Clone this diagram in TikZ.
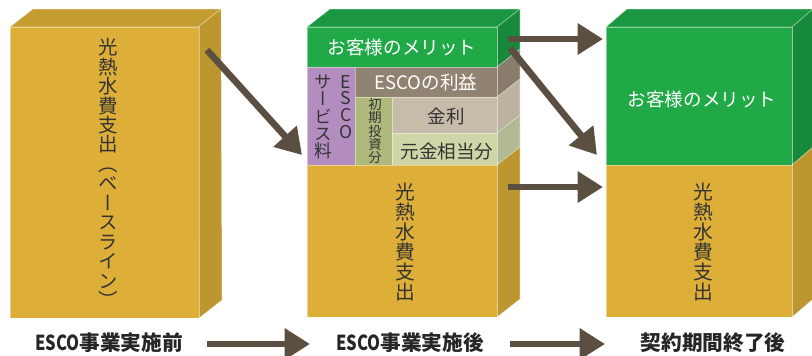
\documentclass[tikz,border=0pt]{standalone}
\usepackage{fontspec}
\setmainfont{Noto Sans CJK JP}
\newfontfamily\jpv[RawFeature=+vert]{Noto Sans CJK JP}
\usetikzlibrary{arrows.meta}
\lineskiplimit=-100pt
\definecolor{yfront}{HTML}{DDAE38}
\definecolor{ytop}{HTML}{C49C30}
\definecolor{yside}{HTML}{BD962F}
\definecolor{gfront}{HTML}{21A947}
\definecolor{gtop}{HTML}{1C9741}
\definecolor{gside}{HTML}{168A3A}
\definecolor{purp}{HTML}{B38DC0}
\definecolor{brn}{HTML}{918371}
\definecolor{brnside}{HTML}{8A7C6A}
\definecolor{kinri}{HTML}{C7BCA9}
\definecolor{kinriside}{HTML}{BCB29F}
\definecolor{gankin}{HTML}{CED6A7}
\definecolor{gankinside}{HTML}{B1BA93}
\definecolor{olive}{HTML}{AFB97B}
\definecolor{arr}{HTML}{5A4F40}
\definecolor{txt}{HTML}{333333}
\tikzset{
  edge/.style={draw=white, draw opacity=0.45, line width=0.4pt},
  vlab/.style={align=center, inner sep=0pt, text=txt, font=\jpv\fontsize{14.6pt}{14.6pt}\selectfont},
  hlab/.style={inner sep=0pt, font=\fontsize{13.9pt}{14pt}\selectfont},
  blab/.style={inner sep=0pt, text=black!85, font=\bfseries\fontsize{15.5pt}{16pt}\selectfont},
  bigarrow/.style={draw=arr, line width=5pt, -{Triangle[length=19pt, width=22.5pt]}},
}
\begin{document}
\begin{tikzpicture}[x=0.75pt, y=-0.75pt]
\useasboundingbox (0,0) rectangle (812,355);

% ---------- Box 1 ----------
\fill[ytop, edge] (10,27) -- (198,27) -- (221,9) -- (33,9) -- cycle;
\fill[yside, edge] (198,27) -- (221,9) -- (222,300) -- (199,318) -- cycle;
\fill[yfront, edge] (10,27) rectangle (199,318);
\node[vlab] (base1) at (108,173) {光\\熱\\水\\費\\支\\出\\（\\ベ\\ー\\ス\\ラ\\イ\\ン\\）};

% ---------- Box 2 ----------
\fill[gtop, edge] (307,27) -- (497,27) -- (520,9) -- (330,9) -- cycle;
\fill[gside, edge] (497,27) -- ++(23,-18) -- ++(0,40) -- ++(-23,18) -- cycle;
\fill[brnside, edge] (497,67) -- ++(23,-18) -- ++(0,30) -- ++(-23,18) -- cycle;
\fill[kinriside, edge] (497,97) -- ++(23,-18) -- ++(0,36) -- ++(-23,18) -- cycle;
\fill[gankinside, edge] (497,133) -- ++(23,-18) -- ++(0,32) -- ++(-23,18) -- cycle;
\fill[yside, edge] (497,165) -- ++(23,-18) -- ++(0,152) -- ++(-23,18) -- cycle;
\fill[gfront, edge] (307,27) rectangle (497,67);
\fill[purp, edge] (307,67) rectangle (355,165);
\fill[brn, edge] (355,67) rectangle (497,97);
\fill[olive, edge] (355,97) rectangle (392,165);
\fill[kinri, edge] (392,97) rectangle (497,133);
\fill[gankin, edge] (392,133) rectangle (497,165);
\fill[yfront, edge] (307,165) rectangle (497,317);
\node[hlab, text=white] (merit2) at (402,47) {お客様のメリット};
\node[hlab, text=white] (profit) at (426,82) {ESCOの利益};
\node[vlab, font=\jpv\fontsize{13.2pt}{12.6pt}\selectfont] (esco) at (346,107) {E\\S\\C\\O};
\node[vlab, font=\jpv\fontsize{13.2pt}{13pt}\selectfont] (service) at (323,117) {サ\\ー\\ビ\\ス\\料};
\node[vlab, font=\jpv\fontsize{10pt}{9.8pt}\selectfont] (invest) at (375,131) {初\\期\\投\\資\\分};
\node[hlab, text=txt] (kinri) at (446,116) {金利};
\node[hlab, text=txt] (gankin) at (447,151) {元金相当分};
\node[vlab, font=\jpv\fontsize{14.8pt}{14.9pt}\selectfont] (base2) at (405,242) {光\\熱\\水\\費\\支\\出};

% ---------- Box 3 ----------
\fill[gtop, edge] (606,27) -- (792,27) -- (813,9) -- (627,9) -- cycle;
\fill[gside, edge] (792,27) -- ++(21,-18) -- ++(0,138) -- ++(-21,18) -- cycle;
\fill[yside, edge] (792,165) -- ++(21,-18) -- ++(0,152) -- ++(-21,18) -- cycle;
\fill[gfront, edge] (606,27) rectangle (792,165);
\fill[yfront, edge] (606,165) rectangle (792,317);
\node[hlab, text=white] (merit3) at (702,99) {お客様のメリット};
\node[vlab, font=\jpv\fontsize{14.8pt}{14.9pt}\selectfont] (base3) at (703,242) {光\\熱\\水\\費\\支\\出};

% ---------- Arrows ----------
\coordinate (a1s) at (207,50);  \coordinate (a1e) at (302,155);
\coordinate (a2s) at (508,39);  \coordinate (a2e) at (603,39);
\coordinate (a3s) at (510,48);  \coordinate (a3e) at (597,155);
\coordinate (a4s) at (508,187); \coordinate (a4e) at (603,187);
\draw[bigarrow] (a1s) -- (a1e);
\draw[bigarrow] (a2s) -- (a2e);
\draw[bigarrow] (a3s) -- (a3e);
\draw[bigarrow] (a4s) -- (a4e);

% ---------- Bottom labels ----------
\node[blab] (before) at (109,343) {\scalebox{0.8}[1]{ESCO}事業実施前};
\node[blab] (after) at (410,343) {\scalebox{0.8}[1]{ESCO}事業実施後};
\node[blab] (end) at (713,343) {契約期間終了後};
\coordinate (b1s) at (207,344); \coordinate (b1e) at (310,344);
\coordinate (b2s) at (510,344); \coordinate (b2e) at (605,344);
\draw[bigarrow] (b1s) -- (b1e);
\draw[bigarrow] (b2s) -- (b2e);
\end{tikzpicture}
\end{document}
